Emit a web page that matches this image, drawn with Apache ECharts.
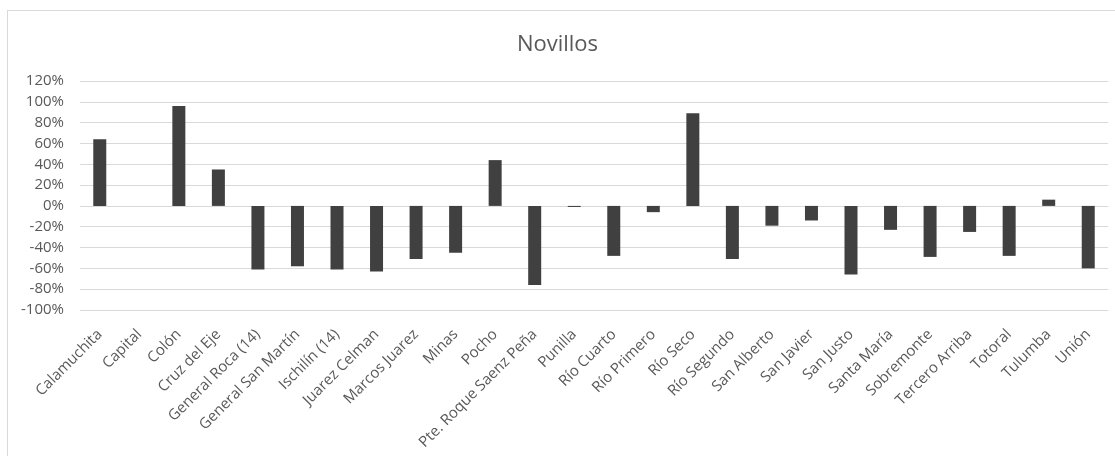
<!DOCTYPE html>
<html>
<head>
<meta charset="utf-8">
<title>Novillos</title>
<script src="https://cdn.jsdelivr.net/npm/echarts@6/dist/echarts.min.js"></script>
<style>
  html, body { margin: 0; padding: 0; background: #ffffff; }
  #chart { width: 1115px; height: 456px; }
</style>
</head>
<body>
<div id="chart"></div>
<script>
// Departments (categories along the x axis)
const departamentos = [
  'Calamuchita', 'Capital', 'Colón', 'Cruz del Eje', 'General Roca (14)',
  'General San Martín', 'Ischilín (14)', 'Juarez Celman', 'Marcos Juarez',
  'Minas', 'Pocho', 'Pte. Roque Saenz Peña', 'Punilla', 'Río Cuarto',
  'Río Primero', 'Río Seco', 'Río Segundo', 'San Alberto', 'San Javier',
  'San Justo', 'Santa María', 'Sobremonte', 'Tercero Arriba', 'Totoral',
  'Tulumba', 'Unión'
];

// Variation of steers (novillos), in percent
const variacion = [
  64, 0, 96, 35, -61,
  -58, -61, -63, -51,
  -45, 44, -76, -1, -48,
  -6, 89, -51, -19, -14,
  -66, -23, -49, -25, -48,
  6, -60
];

// Y axis range and step, in percent
const ejeMin = -100;
const ejeMax = 120;
const ejePaso = 20;

const chart = echarts.init(document.getElementById('chart'), null, { renderer: 'canvas' });
const textColor = '#595959';
const gridColor = '#d9d9d9';
const fontFamily = '"Open Sans", "Noto Sans", sans-serif';

chart.setOption({
  animation: false,
  backgroundColor: '#ffffff',
  title: {
    text: 'Novillos',
    left: 'center',
    top: 29,
    textStyle: { color: textColor, fontSize: 22, fontWeight: 'normal', fontFamily: fontFamily }
  },
  grid: { left: 80, right: 7, top: 81, bottom: 146, containLabel: false },
  xAxis: {
    type: 'category',
    data: departamentos,
    axisLine: { show: false },
    axisTick: { show: false },
    axisLabel: {
      rotate: 45,
      interval: 0,
      margin: 22,
      color: textColor,
      fontSize: 15,
      fontFamily: fontFamily
    }
  },
  yAxis: {
    type: 'value',
    min: ejeMin,
    max: ejeMax,
    interval: ejePaso,
    axisLine: { show: false },
    axisTick: { show: false },
    axisLabel: {
      formatter: '{value}%',
      color: textColor,
      fontSize: 15,
      margin: 16,
      fontFamily: fontFamily
    },
    splitLine: { lineStyle: { color: gridColor, width: 1 } }
  },
  series: [{
    type: 'bar',
    data: variacion,
    barWidth: 13,
    itemStyle: { color: '#404040' }
  }],
  graphic: [
    // Chart frame: top and left edges
    { type: 'line', shape: { x1: 7, y1: 10.5, x2: 1115, y2: 10.5 }, style: { stroke: gridColor, lineWidth: 1 }, silent: true },
    { type: 'line', shape: { x1: 7.5, y1: 10, x2: 7.5, y2: 456 }, style: { stroke: gridColor, lineWidth: 1 }, silent: true }
  ]
});
</script>
</body>
</html>
